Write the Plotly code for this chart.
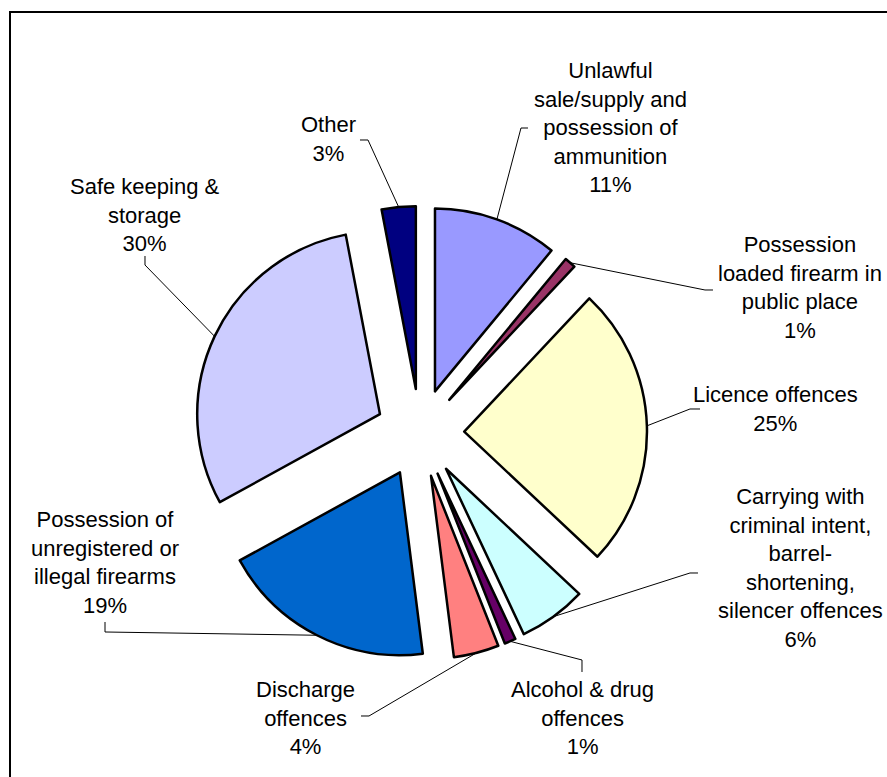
import math
import plotly.graph_objects as go

# Offence categories, clockwise from 12 o'clock
categories = [
    "Unlawful sale/supply and possession of ammunition",
    "Possession loaded firearm in public place",
    "Licence offences",
    "Carrying with criminal intent, barrel-shortening, silencer offences",
    "Alcohol & drug offences",
    "Discharge offences",
    "Possession of unregistered or illegal firearms",
    "Safe keeping & storage",
    "Other",
]
shares = [11, 1, 25, 6, 1, 4, 19, 30, 3]

# Wrapped label text shown beside each slice
label_lines = [
    ["Unlawful", "sale/supply and", "possession of", "ammunition"],
    ["Possession", "loaded firearm in", "public place"],
    ["Licence offences"],
    ["Carrying with", "criminal intent,", "barrel-", "shortening,", "silencer offences"],
    ["Alcohol & drug", "offences"],
    ["Discharge", "offences"],
    ["Possession of", "unregistered or", "illegal firearms"],
    ["Safe keeping &", "storage"],
    ["Other"],
]

colors = ["#9999FF", "#993366", "#FFFFCC", "#CCFFFF", "#660066",
          "#FF8080", "#0066CC", "#CCCCFF", "#000080"]

W, H = 887, 777
PULL = 0.242

# Pie box in pixels (left, top, size)
box_left, box_top, box_size = 193, 206, 454
dom_x = [box_left / W, (box_left + box_size) / W]
dom_y = [1 - (box_top + box_size) / H, 1 - box_top / H]

cx = box_left + box_size / 2
cy = box_top + box_size / 2
radius = box_size / (2 + 2 * PULL)

# Label placement (pixel centre) and leader-line route after the arc anchor
label_pos = [(610, 128), (800, 288), (775, 409), (800, 568), (582, 718),
             (305, 718), (105, 562), (145, 215), (328, 139)]
leader_route = [
    [(521, 128), (528, 128)],
    [(705, 290), (713, 290)],
    [(690, 409), (700, 409)],
    [(690, 573), (698, 573)],
    [(582, 660), (582, 672)],
    [(369, 716), (361, 716)],
    [(105, 632), (105, 622)],
    [(145, 265), (145, 256)],
    [(368, 140), (360, 140)],
]


def px(x, y):
    return x / W, 1 - y / H


fig = go.Figure(go.Pie(
    labels=categories,
    values=shares,
    sort=False,
    direction="clockwise",
    rotation=0,
    pull=[PULL] * len(shares),
    marker=dict(colors=colors, line=dict(color="black", width=2.5)),
    textinfo="none",
    hoverinfo="label+percent",
    domain=dict(x=dom_x, y=dom_y),
    showlegend=False,
))

total = sum(shares)
annotations = []
shapes = []
cum = 0
for i, v in enumerate(shares):
    mid = (cum + v / 2) / total * 2 * math.pi
    cum += v
    ax = cx + radius * (1 + PULL) * math.sin(mid)
    ay = cy - radius * (1 + PULL) * math.cos(mid)
    pts = [(ax, ay)] + leader_route[i]
    path = "M " + " L ".join(f"{px(x, y)[0]:.5f},{px(x, y)[1]:.5f}" for x, y in pts)
    shapes.append(dict(type="path", xref="paper", yref="paper", path=path,
                       line=dict(color="black", width=1)))
    pct = round(v / total * 100)
    text = "<br>".join(label_lines[i] + [f"{pct}%"])
    lx, ly = px(*label_pos[i])
    annotations.append(dict(x=lx, y=ly, xref="paper", yref="paper", text=text,
                            showarrow=False, xanchor="center", yanchor="middle",
                            align="center",
                            font=dict(family="Liberation Sans, Arial, sans-serif",
                                      size=22, color="black")))

# Chart frame
fx0, fy0 = px(10, 12)
shapes.append(dict(type="rect", xref="paper", yref="paper",
                   x0=fx0, y0=-0.2, x1=1.2, y1=fy0,
                   line=dict(color="black", width=2), fillcolor="rgba(0,0,0,0)"))

fig.update_layout(
    width=W, height=H,
    margin=dict(l=0, r=0, t=0, b=0),
    paper_bgcolor="white",
    plot_bgcolor="white",
    shapes=shapes,
    annotations=annotations,
)

fig.write_html("out.html")
